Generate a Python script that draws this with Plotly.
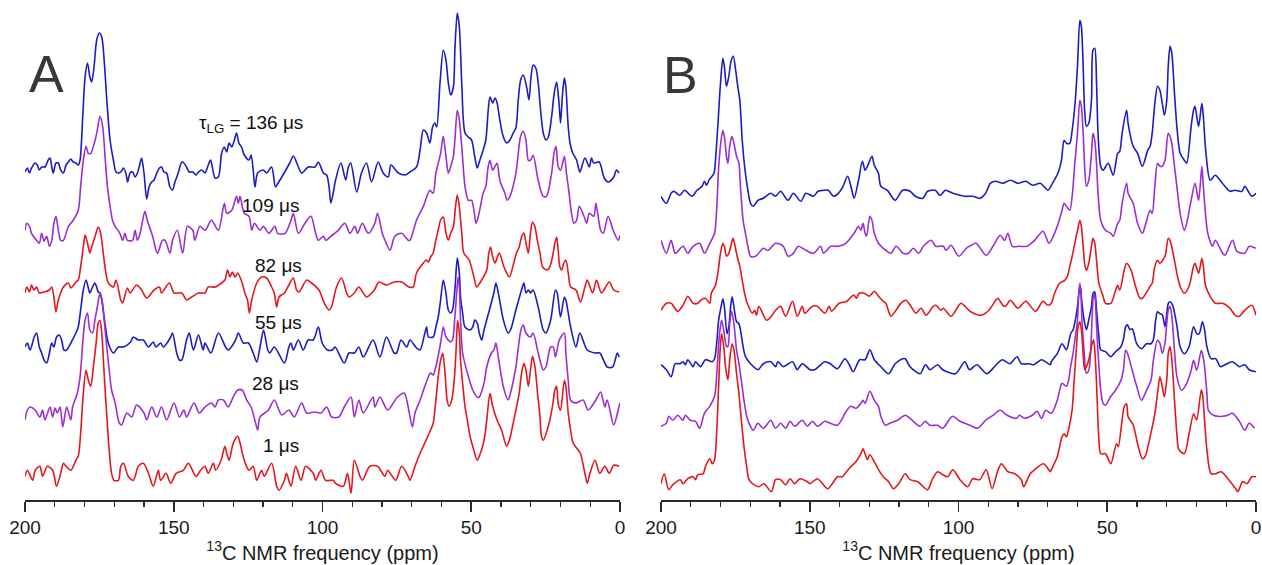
import plotly.graph_objects as go

# ---------------- data: (ppm, intensity) ----------------
# Panel A
A_136 = [(200,-2),(199.2,2),(198.5,-3),(197.8,2),(196.6,7),(195.9,5),(195.2,0),(194.4,3),(193.3,3),(192.2,10),(191.6,12),(191.0,3),(190.5,-3),(189.6,7),(188.8,7),(188.0,0),(187.1,-3),(186.2,5),(185.4,8),(184.6,11),(183.8,8),(182.9,7),(182.1,5),(181.5,10),(180.6,53),(179.8,93),(179.0,107),(178.2,93),(177.6,88),(176.8,103),(175.9,130),(175.0,137),(174.2,133),(173.4,110),(172.5,70),(171.4,30),(170.3,10),(169.4,-2),(168.6,-3),(167.8,-2),(166.9,2),(166.1,-3),(165.5,-12),(164.7,-3),(163.8,-2),(163.0,-7),(162.2,-3),(161.3,7),(160.8,12),(160.0,-3),(159.1,-29),(158.3,-17),(157.4,-12),(156.6,-10),(155.7,-3),(154.8,2),(154.1,3),(153.3,-2),(152.4,-3),(151.3,-17),(150.4,-20),(149.6,-12),(148.5,-3),(147.3,8),(146.6,7),(145.7,3),(144.8,-2),(143.6,-2),(142.5,-5),(141.7,-2),(140.6,0),(139.5,-3),(138.4,5),(137.6,10),
         (136.1,-8),(135.0,-7),(133.9,17),(133.0,23),(132.2,18),(131.4,27),(130.5,23),(129.6,30),(128.9,37),(128.1,27),(127.2,23),(126.3,15),(124.7,10),(124.0,15),(123.3,0),(122.7,-17),(121.8,-3),(119.9,0),(118.8,-3),(117.1,3),(115.8,-17),(114.9,-13),(112.9,-3),(111.0,7),(109.8,14),(108.1,3),(107.0,-3),(104.8,3),(102.5,3),(101.4,8),(99.7,-3),(98.6,-5),(97.8,-17),(97.2,-33),(96.4,-23),(95.6,-10),(93.8,7),(92.2,-10),(91.3,3),(90.5,7),(88.5,-22),(86.9,-3),(85.2,7),(83.5,-12),(81.3,8),(79.6,-3),(77.9,-7),(77.0,5),(74.5,-3),(72.3,-5),
         (70.6,-2),(68.4,3),(67.2,20),(66.1,40),(65.0,37),(63.9,27),(63.0,43),(62.2,47),(61.6,43),(60.5,87),(59.4,120),(58.5,110),(57.7,87),(56.9,75),(56.0,83),(55.5,120),(54.7,157),(54.0,143),(53.2,87),(52.1,37),(51.0,33),(49.9,30),(48.8,13),(48.0,2),(47.1,10),(46.2,18),(45.1,30),(44.3,60),(43.7,73),(42.8,67),(42.0,72),(41.3,67),(40.4,50),(39.2,33),(38.1,27),(37.0,30),(35.9,37),(35.0,42),(34.2,70),(33.4,90),(32.5,95),(31.4,83),(30.6,70),(29.9,93),(29.2,105),(28.3,102),(27.5,87),(26.7,60),(25.8,37),(24.9,30),(24.1,33),(23.0,53),(22.1,77),(21.3,88),(20.5,67),(20.0,47),(19.3,77),(18.7,92),(18.2,83),(17.4,43),(16.8,27),(15.9,17),(14.6,10),(13.5,-2),(11.8,12),(10.3,3),(9.6,12),(8.8,7),(7.0,8),(5.3,-8),(4.0,-12),(2.1,-7),(1.2,0),(0.3,-3)]

A_109 = [(200,3),(199.4,10),(198.5,7),(197.8,0),(196.1,-7),(195.2,-10),(194.4,0),(193.6,-8),(192.7,-3),(191.8,-13),(191.0,-7),(190.3,10),(189.6,17),(188.8,3),(188.0,-7),(187.1,-7),(185.4,7),(183.8,13),(182.1,23),(181.3,47),(180.4,73),(179.5,87),(178.7,80),(177.9,80),(177.0,87),(175.9,100),(174.8,117),(173.9,107),(173.1,77),(172.3,47),(171.4,27),(170.5,12),(169.7,7),(168.1,0),(167.2,-7),(166.4,0),(165.6,-7),(163.8,-7),(163.0,3),(162.2,-7),(161.3,0),(159.7,22),(158.9,13),(157.1,-3),(155.5,-20),(153.8,-7),(152.9,-7),(151.3,-20),(150.4,-7),(148.8,3),(147.0,-20),(145.4,7),(143.6,3),(142.9,-7),(141.2,7),
         (139.5,3),(137.3,13),(135.0,3),(133.0,30),(132.2,20),(130.5,23),(128.9,37),(128.3,30),(127.7,37),(126.3,20),(124.7,17),(123.8,3),(122.9,10),(121.0,3),(119.9,7),(118.0,0),(116.0,7),(115.1,0),(112.6,0),(110.6,13),(109.8,20),(108.1,0),(105.9,10),(103.9,17),(102.3,0),(101.4,-7),(99.7,-3),(98.9,-7),(97.2,-3),(94.7,3),(92.5,10),(90.8,0),(89.1,7),(88.2,0),(86.6,10),(84.6,0),(82.4,10),(81.5,20),(79.9,0),(79.0,-7),(77.3,-17),(75.7,-3),(73.4,0),(71.2,-7),
         (70.6,-7),(68.4,13),(66.1,27),(63.9,43),(62.8,40),(61.9,60),(60.3,80),(59.4,97),(58.5,77),(57.7,60),(56.9,67),(56.0,77),(55.5,93),(54.7,123),(54.0,113),(53.2,87),(52.1,47),(51.0,33),(49.9,33),(49.1,23),(48.4,10),(47.6,17),(46.0,40),(45.1,47),(44.3,67),(43.7,73),(42.8,63),(42.0,67),(41.3,70),(40.4,53),(38.7,40),(37.9,33),(37.0,37),(35.0,60),(34.2,80),(33.4,97),(32.5,102),(31.6,93),(30.8,73),(30.1,73),(29.2,78),(27.5,53),(25.8,37),(24.7,37),(23.0,60),(22.2,80),(21.5,87),(20.8,67),(20.0,63),(18.7,77),(18.0,60),(17.1,40),(16.3,20),(15.5,10),(14.6,13),(13.7,27),(12.1,17),(11.2,10),(10.3,20),(8.8,17),(8.1,30),(6.5,3),(5.6,0),(4.0,17),(2.3,3),(0.6,-7),(0.0,-2)]

A_82 = [(200,-3),(199.4,3),(198.5,-2),(197.8,5),(197.0,0),(196.1,3),(195.2,-3),(193.6,-2),(191.8,0),(191.0,3),(190.3,-7),(189.6,-22),(188.8,-10),(187.1,3),(185.4,7),(184.6,2),(182.9,8),(182.1,10),(181.3,23),(180.4,43),(179.8,55),(179.0,47),(178.2,37),(177.6,43),(176.5,53),(175.4,63),(174.6,57),(173.7,37),(172.8,17),(172.0,7),(170.3,3),(169.4,10),(167.8,-10),(167.2,-13),(165.6,2),(164.7,-3),(162.5,5),(160.8,0),(159.1,-8),(156.6,0),(154.8,3),(154.1,-3),(151.5,7),(149.9,-3),(147.3,-3),(145.7,-10),(144.0,-7),(141.7,-3),
        (139.5,-3),(138.4,3),(136.1,3),(133.9,7),(132.8,10),(131.9,20),(131.1,13),(130.3,18),(129.4,13),(128.5,17),(127.0,7),(126.1,-3),(125.2,-10),(124.6,-23),(123.8,-10),(122.1,7),(120.5,13),(118.8,12),(117.1,3),(116.2,-3),(115.4,-17),(114.6,-7),(112.8,-3),(111.3,5),(109.8,12),(108.7,0),(107.9,-2),(105.3,10),(103.7,7),(101.2,0),(99.4,-13),(97.8,-20),(97.0,-17),(95.3,3),(93.6,12),(91.9,-3),(91.1,-7),(89.3,-3),(87.8,3),(85.2,-7),(82.6,0),(81.0,8),(78.5,5),(75.9,8),(73.4,8),(71.0,3),
        (69.5,3),(68.4,17),(66.1,27),(65.2,30),(64.4,28),(63.7,33),(62.8,37),(61.9,50),(61.1,60),(60.3,70),(59.4,73),(58.5,57),(57.7,50),(56.9,57),(56.0,63),(55.3,83),(54.7,95),(54.0,83),(53.2,57),(52.5,37),(50.7,30),(49.1,13),(48.2,3),(46.5,10),(44.8,20),(44.1,37),(43.5,43),(42.8,33),(42.0,27),(40.6,37),(39.0,23),(37.2,13),(35.7,27),(34.8,37),(33.9,43),(33.1,53),(32.3,57),(31.6,47),(30.8,37),(30.1,57),(29.4,68),(28.6,63),(27.8,50),(26.9,37),(26.0,23),(24.5,20),(23.6,23),(22.7,33),(21.9,47),(21.3,53),(20.8,40),(20.2,23),(19.6,20),(18.9,27),(18.2,30),(17.4,17),(16.6,3),(14.8,0),(13.3,-12),(11.8,3),(11.0,10),(9.2,-3),(7.9,10),(6.2,-3),(3.6,8),(2.1,0),(0.3,-2)]

A_55 = [(200,3),(199.2,7),(198.3,0),(196.9,13),(196.1,17),(195.2,3),(194.4,-3),(193.6,-10),(192.7,-13),(191.8,-3),(191.0,7),(190.3,3),(189.4,13),(188.5,15),(187.7,10),(186.9,0),(186.0,0),(184.6,7),(182.9,17),(182.1,23),(181.3,40),(180.4,60),(179.5,70),(178.8,63),(178.2,57),(177.3,63),(176.5,67),(175.9,63),(175.4,58),(174.8,57),(174.2,50),(173.4,33),(172.8,20),(172.0,7),(170.3,-3),(168.6,3),(166.9,3),(164.5,8),(163.6,13),(161.9,10),(160.2,10),(158.5,3),(156.9,8),(156.0,3),(154.4,7),(153.5,3),(151.0,13),(150.4,17),(149.0,-3),(148.1,-10),(147.3,-10),(145.7,10),(144.8,17),(143.4,0),(141.7,15),(140.1,0),
        (139.5,7),(137.5,-3),(135.0,17),(132.6,3),(131.7,0),(129.2,10),(128.3,17),(126.6,7),(124.9,7),(123.3,-3),(122.1,-12),(121.0,3),(119.8,20),(118.4,0),(117.7,-3),(116.2,3),(112.8,-13),(111.3,3),(110.6,7),(109.8,0),(108.1,10),(106.5,0),(104.8,10),(103.1,10),(101.4,23),(100.1,7),(98.3,0),(96.7,0),(95.8,3),(92.7,-13),(91.1,-3),(89.3,-3),(87.8,3),(86.3,-7),(83.0,10),(80.7,-7),(78.5,13),(75.9,-3),(75.1,-3),(73.6,10),(71.7,3),
        (70.6,10),(68.4,2),(67.2,0),(65.6,17),(65.0,23),(64.4,13),(62.8,13),(61.9,23),(61.1,33),(60.3,50),(59.4,70),(58.5,57),(57.7,40),(56.9,37),(56.3,40),(55.5,60),(54.7,92),(54.0,77),(53.6,53),(52.9,37),(52.1,23),(50.4,20),(49.5,23),(48.8,30),(48.0,27),(47.3,17),(46.5,10),(45.7,20),(43.9,40),(42.4,57),(41.7,67),(40.9,57),(39.2,30),(37.6,17),(36.8,20),(35.0,40),(33.1,60),(32.3,67),(31.6,57),(30.8,60),(30.1,57),(29.2,60),(27.5,43),(25.8,20),(24.9,17),(23.3,30),(21.7,60),(21.1,57),(20.0,33),(18.7,53),(18.2,50),(16.6,23),(14.8,3),(13.5,17),(11.0,0),(8.4,-3),(6.8,-3),(4.3,-17),(2.5,-17),(0.9,-3),(0.3,-7)]

A_28 = [(200,-10),(199.2,0),(198.3,3),(196.6,0),(195.0,-7),(194.1,0),(193.3,-10),(191.6,3),(190.7,-7),(189.9,2),(189.1,-3),(188.2,3),(187.3,-17),(186.0,3),(184.6,-10),(184.0,3),(182.4,17),(181.5,33),(180.6,67),(179.8,90),(179.0,97),(178.2,80),(177.3,77),(176.5,90),(175.7,103),(174.8,117),(174.1,110),(173.4,90),(172.5,63),(171.7,40),(170.9,20),(169.7,7),(168.3,-13),(167.5,-15),(165.8,-3),(164.1,-7),(162.5,5),(160.0,-3),(159.1,-10),(157.4,3),(155.7,-7),(154.1,3),(152.4,-10),(149.9,7),(148.1,-7),(146.6,0),(145.7,-7),(143.2,7),(141.4,-3),
        (139.5,3),(137.3,7),(136.1,3),(135.0,10),(133.3,10),(131.7,3),(130.0,13),(128.5,20),(127.0,20),(125.5,10),(124.0,3),(122.5,-13),(121.8,-20),(121.0,-7),(118.2,0),(116.2,10),(113.7,-5),(111.3,0),(109.5,-7),(107.0,7),(105.3,-3),(102.5,-2),(100.5,-3),(98.6,3),(96.9,-7),(94.5,-7),(92.7,3),(90.4,13),(89.3,-7),(87.8,10),(86.3,-3),(83.0,13),(82.4,3),(80.7,13),(78.1,0),(74.8,13),(72.5,17),(71.2,3),
        (69.8,-17),(68.9,-3),(67.2,10),(65.2,27),(63.7,37),(62.8,35),(61.9,43),(60.3,67),(59.4,83),(58.5,73),(56.9,68),(56.3,70),(55.5,93),(54.9,117),(54.4,133),(54.0,123),(53.6,90),(52.9,57),(51.3,37),(49.5,20),(48.0,13),(47.3,13),(45.7,27),(44.8,43),(43.2,57),(42.4,60),(41.7,67),(40.9,53),(39.2,23),(37.6,10),(36.8,17),(35.0,43),(33.3,80),(32.5,85),(31.6,77),(30.1,73),(29.2,77),(27.5,57),(25.8,40),(24.9,43),(23.3,63),(22.4,63),(21.7,53),(20.4,70),(18.7,77),(18.2,57),(17.4,30),(16.6,10),(14.8,7),(12.4,10),(10.7,0),(8.1,10),(6.5,18),(5.1,3),(4.3,10),(2.1,-15),(0.6,0),(0.0,7)]

A_1 = [(200,-3),(199.2,3),(197.4,-7),(196.6,3),(195.0,7),(194.1,-3),(192.5,7),(190.7,3),(189.4,-13),(188.0,0),(187.1,10),(186.2,7),(184.6,3),(182.9,13),(182.1,17),(181.3,40),(180.4,80),(179.5,103),(178.7,93),(177.9,87),(177.0,107),(176.1,130),(175.4,150),(174.8,153),(174.2,140),(173.4,100),(172.5,57),(171.7,23),(170.9,0),(170.1,-7),(168.6,-7),(167.8,7),(166.9,10),(165.3,-3),(163.6,-7),(161.9,7),(160.2,10),(158.5,0),(156.9,-13),(155.2,3),(154.4,-7),(152.6,0),(151.0,-10),(149.2,0),(146.8,3),(145.1,10),(142.5,-3),(141.0,3),
       (139.5,7),(138.4,0),(136.7,10),(135.9,3),(134.1,13),(132.8,27),(132.2,20),(131.4,13),(130.0,30),(128.5,37),(127.7,30),(126.3,13),(124.7,3),(123.3,7),(122.1,-7),(120.5,3),(119.6,-3),(117.1,10),(115.4,-13),(114.6,-17),(112.8,-7),(112.1,0),(110.6,-13),(109.0,7),(107.2,-7),(105.7,7),(103.1,0),(102.3,-7),(100.5,3),(99.0,-7),(96.4,-7),(95.6,-10),(93.0,-13),(91.6,0),(90.4,-20),(89.3,13),(87.4,-3),(86.6,-7),(84.1,7),(81.5,7),(79.0,-3),(78.1,3),(75.4,-7),(73.4,7),(71.2,-3),
       (70.6,-7),(68.9,7),(67.2,20),(65.2,33),(63.7,43),(62.8,50),(61.9,73),(61.1,97),(60.3,113),(59.6,120),(58.8,100),(58.1,73),(57.4,67),(56.6,73),(55.8,90),(55.1,123),(54.6,153),(54.0,140),(53.6,113),(52.9,90),(52.1,67),(51.3,53),(50.4,37),(49.5,27),(48.0,13),(47.3,17),(45.7,33),(44.8,53),(43.7,80),(42.8,67),(41.3,53),(39.8,43),(38.1,27),(37.2,33),(35.7,53),(33.9,80),(33.1,100),(32.3,110),(31.6,103),(30.8,87),(30.1,103),(29.4,117),(28.6,107),(27.8,83),(26.9,57),(26.4,37),(25.8,33),(24.1,47),(22.7,67),(21.9,83),(21.3,87),(20.8,70),(20.0,63),(18.7,93),(18.2,87),(17.4,60),(16.6,43),(15.7,30),(14.0,23),(13.3,20),(11.8,0),(11.0,-10),(10.1,0),(8.4,13),(6.8,0),(5.1,7),(3.6,0),(2.1,8),(0.3,7)]

# Panel B
B_1 = [(200,-3),(198.2,-10),(196.6,0),(195.7,2),(193.7,-2),(192.1,3),(189.6,-3),(187.9,3),(186.2,7),(185.4,12),(184.7,8),(183.9,13),(182.2,20),(181.7,33),(180.9,67),(180.0,110),(179.2,135),(178.7,127),(178.0,107),(177.2,117),(176.4,133),(175.7,137),(174.9,123),(174.2,107),(173.5,93),(172.7,53),(171.9,27),(171.0,7),(169.9,-10),(169.0,-13),(167.4,-7),(165.6,-5),(163.1,0),(161.5,-3),(159.8,2),(157.3,-7),(155.5,0),(153.0,-8),(151.3,0),(148.8,-3),(147.2,2),(145.4,3),(143.8,3),(142.0,-3),(140.4,0),(138.8,7),
       (137.3,17),(136.0,5),(135.1,-5),(133.6,13),(132.3,32),(131.4,23),(130.6,27),(129.1,37),(128.3,28),(126.9,20),(126.1,7),(123.9,3),(121.3,-7),(118.8,3),(116.3,2),(114.5,-3),(112.0,-5),(110.4,2),(107.8,3),(106.2,-2),(104.4,3),(101.9,0),(99.5,-2),(97.7,-3),(95.2,-3),(92.7,-5),(90.9,0),(89.3,10),(87.5,12),(85.1,10),(82.6,13),(80.0,10),(77.4,12),(75.0,8),(72.5,10),(69.9,3),
       (68.8,8),(66.6,20),(65.4,33),(64.5,53),(63.7,50),(62.6,50),(61.8,63),(60.9,87),(60.0,127),(59.2,173),(58.7,167),(58.1,127),(57.6,83),(57.0,67),(56.2,70),(55.3,93),(54.8,143),(54.2,145),(53.6,110),(53.1,60),(52.2,27),(51.4,23),(49.7,30),(48.0,18),(46.5,40),(45.8,42),(45.0,60),(43.5,83),(43.0,70),(41.3,47),(39.8,40),(38.2,27),(36.4,43),(35.6,47),(34.9,60),(34.0,90),(33.1,107),(32.3,103),(31.5,90),(30.8,78),(30.0,93),(29.5,127),(28.9,147),(28.3,140),(27.4,100),(26.6,67),(25.5,40),(24.1,33),(23.3,30),(21.8,67),(21.0,83),(20.5,87),(19.3,67),(18.2,90),(17.7,77),(16.9,43),(15.4,13),(13.7,18),(11.3,10),(8.7,2),(7.2,3),(4.7,2),(3.8,7),(1.4,-3),(0,0)]

B_2 = [(200,8),(198.2,-5),(196.6,8),(195.2,-5),(192.6,2),(191.0,-5),(189.2,2),(187.0,5),(185.4,-5),(183.6,5),(182.0,15),(181.3,38),(180.6,82),(179.8,108),(179.2,118),(178.7,112),(178.0,92),(177.5,85),(176.9,102),(176.2,112),(175.5,105),(174.6,92),(173.8,85),(173.3,62),(172.4,28),(171.6,15),(170.8,2),(169.9,-8),(168.2,-8),(165.6,0),(164.0,-2),(161.5,5),(158.9,2),(157.3,-8),(155.5,-5),(153.9,2),(151.3,-2),(148.8,-5),(146.3,2),(145.4,-5),(142.9,2),(140.4,2),(137.9,5),
       (135.1,15),(133.6,22),(132.8,18),(132.1,25),(131.4,15),(130.9,12),(129.8,32),(129.1,28),(128.3,15),(126.9,5),(125.3,0),(122.7,-5),(121.0,2),(118.6,-5),(116.8,-5),(115.2,0),(113.4,-5),(111.8,2),(109.2,8),(107.6,2),(105.1,2),(104.2,-2),(102.5,3),(99.9,-8),(97.4,0),(95.7,3),(94.1,5),(90.7,-7),(88.4,2),(86.0,13),(84.5,8),(83.4,15),(81.9,2),(79.5,2),(77.0,2),(74.4,8),(71.6,17),(69.6,5),
       (68.8,8),(66.8,22),(65.2,38),(64.5,45),(63.7,42),(62.6,38),(61.8,52),(60.9,85),(60.0,115),(59.2,148),(58.7,142),(58.1,115),(57.6,82),(57.0,62),(56.2,68),(55.3,95),(54.8,115),(54.2,108),(53.6,85),(53.1,55),(52.2,28),(50.6,18),(48.8,15),(48.0,12),(46.5,25),(45.8,28),(45.0,45),(43.5,65),(43.0,55),(41.3,45),(39.8,25),(38.2,15),(37.3,22),(35.6,38),(34.9,35),(34.0,62),(33.1,85),(32.3,82),(31.5,82),(30.6,88),(29.5,115),(28.9,112),(28.3,105),(27.4,82),(26.6,62),(25.5,35),(24.1,18),(23.3,25),(21.8,48),(20.5,65),(19.3,48),(18.2,82),(17.7,62),(16.9,32),(16.2,15),(14.6,2),(13.7,8),(11.2,-5),(10.4,-7),(7.9,8),(6.4,-3),(3.8,-5),(2.3,2),(0,0)]

B_3 = [(200,-2),(198.2,5),(196.6,5),(194.4,-3),(192.6,3),(191.0,12),(189.2,5),(187.6,5),(186.7,8),(185.1,10),(183.6,5),(183.1,15),(181.7,23),(180.9,35),(180.0,55),(179.2,65),(178.7,62),(178.0,52),(177.2,55),(175.8,70),(175.3,65),(174.4,52),(173.5,42),(172.7,28),(171.9,15),(171.0,5),(169.3,-5),(168.5,-2),(167.9,-7),(167.1,2),(164.5,-12),(162.9,-8),(161.5,-2),(159.8,2),(158.1,-8),(155.8,7),(154.2,-8),(152.5,2),(151.7,-5),(149.1,2),(147.4,2),(144.9,-5),(143.5,2),(142.7,-3),(140.1,5),(137.5,7),
       (135.9,12),(135.1,13),(134.3,10),(133.4,15),(131.7,15),(130.0,12),(128.3,17),(126.9,12),(125.3,7),(124.4,5),(123.5,-3),(122.7,-8),(121.0,-2),(119.4,5),(117.7,8),(116.0,2),(114.3,-5),(112.6,0),(110.9,-7),(108.5,2),(107.6,3),(105.9,-2),(105.1,0),(102.5,-8),(99.9,3),(99.1,5),(96.5,-2),(95.0,-5),(92.4,-7),(89.8,-2),(87.5,8),(86.8,10),(85.1,3),(84.2,2),(82.6,8),(80.0,0),(77.4,7),(74.1,-3),(71.6,7),(69.9,3),
       (68.8,5),(67.7,15),(66.0,25),(64.3,28),(63.4,32),(62.6,42),(61.8,52),(60.9,65),(60.0,78),(59.2,88),(58.7,82),(58.1,62),(57.6,45),(57.0,38),(56.2,45),(55.3,62),(54.8,70),(54.2,65),(53.6,48),(52.8,25),(51.4,12),(50.6,5),(48.8,5),(47.2,18),(46.5,23),(45.8,18),(44.3,38),(43.5,45),(42.0,38),(40.5,22),(39.0,10),(38.2,10),(35.6,22),(34.9,25),(34.0,42),(33.1,48),(32.3,45),(30.6,52),(29.5,70),(28.9,68),(27.4,48),(26.6,35),(25.5,22),(24.1,15),(22.5,22),(21.0,42),(20.5,45),(19.3,35),(18.2,50),(17.7,42),(16.9,22),(15.4,12),(13.7,5),(11.2,5),(8.7,0),(7.0,-7),(5.6,-8),(3.8,-2),(1.4,3),(0,-7)]

B_4 = [(200,2),(198.2,-3),(196.6,-10),(195.2,3),(193.5,3),(192.6,5),(191.8,2),(191.0,7),(189.2,0),(188.4,5),(186.7,0),(185.1,7),(182.8,5),(182.0,8),(181.3,23),(180.6,47),(179.8,60),(179.2,68),(178.7,60),(177.8,33),(177.2,40),(176.6,60),(176.1,70),(175.5,60),(174.6,45),(173.8,43),(173.3,37),(172.4,20),(171.6,10),(169.9,3),(167.4,-3),(165.6,3),(163.1,5),(161.5,0),(160.7,5),(158.9,0),(155.8,5),(154.2,-3),(152.5,3),(149.9,-3),(148.3,-3),(144.9,5),(143.1,3),(140.7,-2),(138.2,8),(136.7,2),
       (135.4,-5),(133.2,7),(131.4,7),(129.8,17),(128.3,7),(126.1,0),(123.5,-7),(121.3,3),(118.8,8),(117.9,8),(116.3,0),(112.9,-7),(111.1,2),(109.6,-3),(107.0,2),(105.3,-3),(101.0,-7),(97.9,5),(96.3,-3),(93.8,2),(90.5,-7),(87.9,0),(85.3,7),(82.8,3),(80.3,10),(78.9,3),(76.3,3),(74.7,2),(72.1,7),(69.1,2),
       (68.8,5),(66.8,13),(65.2,23),(63.7,17),(62.3,33),(61.5,37),(60.7,47),(60.0,60),(59.2,80),(58.9,77),(58.5,63),(57.8,47),(57.0,37),(56.2,47),(55.3,60),(54.8,73),(54.2,75),(53.6,57),(52.8,30),(52.2,17),(50.6,15),(48.8,10),(47.2,15),(45.4,20),(44.6,27),(43.8,40),(43.2,42),(42.4,37),(41.6,38),(40.1,23),(38.5,18),(36.8,23),(35.3,23),(34.5,27),(33.7,47),(33.1,55),(32.3,53),(31.5,52),(30.6,40),(29.5,63),(28.9,65),(28.1,62),(26.7,43),(25.5,20),(24.1,13),(22.5,20),(21.0,40),(19.9,33),(19.1,33),(18.0,45),(17.3,37),(16.5,20),(15.1,8),(13.5,8),(12.0,0),(10.4,2),(7.9,5),(5.6,0),(3.8,2),(2.3,-3),(0,-5)]

B_5 = [(200,-3),(198.2,0),(197.4,7),(196.0,3),(194.4,8),(192.6,3),(191.8,8),(190.1,3),(188.4,2),(187.0,-5),(185.4,10),(183.6,17),(182.0,27),(181.3,47),(180.6,80),(180.0,97),(179.6,103),(178.9,93),(178.0,77),(177.5,77),(176.9,100),(176.3,112),(175.5,100),(174.6,73),(173.8,60),(173.0,43),(172.1,23),(171.2,7),(170.4,0),(169.0,-7),(167.4,0),(165.6,-5),(163.1,3),(161.5,-5),(159.8,0),(158.1,-5),(156.6,2),(155.1,-3),(152.5,3),(150.8,-3),(149.1,2),(147.4,-3),(144.9,2),(143.1,0),(140.7,-2),(139.0,5),(138.2,10),
       (136.2,17),(134.5,15),(132.8,20),(132.1,23),(131.4,20),(129.8,32),(128.3,23),(126.9,17),(126.1,7),(124.6,-2),(123.1,0),(120.5,3),(117.9,8),(116.3,5),(113.0,-3),(111.2,2),(109.6,-2),(107.0,-2),(105.3,-5),(102.8,5),(101.9,7),(99.5,2),(96.1,-2),(93.5,-5),(90.9,3),(88.4,8),(86.0,13),(83.7,8),(80.4,5),(79.5,8),(77.8,5),(75.2,8),(73.6,12),(72.1,5),(70.7,13),
       (68.8,10),(66.8,23),(66.0,33),(65.2,40),(63.7,37),(63.0,43),(62.3,57),(61.5,70),(60.7,87),(60.0,103),(59.6,130),(59.2,140),(58.9,133),(58.5,103),(57.8,73),(57.0,50),(56.2,53),(55.3,90),(54.8,123),(54.4,130),(54.0,123),(53.6,97),(52.8,57),(52.2,33),(51.4,20),(50.6,18),(48.8,27),(47.2,33),(45.4,43),(44.6,53),(43.8,73),(43.2,70),(41.6,53),(40.1,37),(38.5,23),(36.8,33),(35.3,43),(34.5,63),(33.1,83),(32.3,80),(31.5,70),(30.6,80),(30.0,100),(29.5,113),(28.9,117),(28.3,107),(27.4,73),(26.6,47),(25.0,33),(23.3,40),(21.8,53),(21.0,63),(19.9,53),(18.4,73),(18.0,70),(17.3,57),(16.5,30),(16.0,13),(14.3,8),(12.8,7),(11.2,7),(9.5,8),(7.9,10),(5.6,2),(3.8,-7),(2.3,0),(0.5,-5)]

B_6 = [(200,-2),(198.9,8),(197.4,-8),(196.0,-3),(193.5,2),(192.6,-2),(191.0,3),(189.2,5),(188.4,2),(187.6,7),(185.8,8),(185.1,15),(183.6,23),(182.8,18),(182.0,22),(181.3,48),(180.6,98),(180.0,138),(179.6,148),(178.9,135),(178.2,112),(177.5,102),(176.9,122),(176.1,138),(175.5,132),(174.6,108),(173.8,88),(173.0,62),(172.1,35),(171.2,15),(170.4,2),(168.8,-3),(167.1,-5),(165.4,-2),(162.9,-10),(161.5,2),(159.8,2),(158.1,-3),(156.6,3),(155.1,-2),(153.3,3),(150.8,0),(149.9,-2),(147.4,3),(144.0,-7),(142.4,-2),(140.7,5),(139.0,5),(138.2,8),
       (136.2,15),(134.5,20),(132.8,28),(132.1,33),(130.6,22),(129.8,27),(128.3,20),(126.9,12),(125.3,5),(123.5,0),(121.9,-7),(120.1,-2),(117.9,8),(116.3,2),(113.7,0),(110.4,-8),(108.7,3),(107.0,10),(105.3,7),(103.6,5),(101.9,12),(99.5,2),(96.9,-5),(95.2,3),(92.9,2),(90.7,12),(88.7,-7),(87.1,8),(85.6,18),(83.4,10),(81.1,8),(78.9,2),(78.1,-5),(75.9,8),(74.4,12),(71.4,18),(69.1,10),
       (68.8,12),(66.8,25),(65.2,45),(64.5,48),(63.7,45),(63.0,52),(61.8,72),(61.2,98),(60.4,132),(59.8,155),(59.2,160),(58.7,152),(58.1,128),(57.6,112),(57.0,115),(56.2,122),(55.1,138),(54.6,142),(54.2,132),(53.6,98),(52.8,42),(52.2,28),(50.6,28),(48.8,18),(46.9,38),(46.3,35),(45.0,62),(44.3,75),(43.5,78),(43.0,65),(41.3,57),(39.8,38),(38.2,23),(37.3,25),(35.6,45),(34.0,68),(33.1,88),(32.3,105),(31.5,95),(30.8,85),(30.0,102),(29.5,128),(28.9,135),(28.3,122),(27.4,82),(26.6,48),(25.9,32),(24.1,28),(22.5,48),(21.0,68),(20.5,65),(19.9,62),(18.4,92),(18.0,88),(17.3,62),(16.5,32),(15.1,8),(13.5,8),(11.7,10),(9.2,2),(6.8,-7),(6.1,-10),(4.5,0),(3.0,-2),(1.4,5),(0,5)]

A_LABELS = ["τ<sub>LG</sub> = 136 μs", "109 μs", "82 μs", "55 μs", "28 μs", "1 μs"]
TICK_VALUES = [200, 150, 100, 50, 0]
AXIS_TITLE = "<sup>13</sup>C NMR frequency (ppm)"

# ---------------- styling / layout ----------------
BLUE, PURPLE, RED = "#1c1cc4", "#9a2fd4", "#e4171d"
A_SERIES = [A_136, A_109, A_82, A_55, A_28, A_1]
B_SERIES = [B_1, B_2, B_3, B_4, B_5, B_6]
COLORS = [BLUE, PURPLE, RED, BLUE, PURPLE, RED]
A_OFFSETS = [330, 266.7, 210, 150, 90, 26.7]
B_OFFSETS = [306.7, 251.7, 191.7, 133.3, 76.7, 18.3]
LABEL_POS = [(105.9, 376), (107.2, 295), (106.2, 235), (106.2, 178), (107.2, 117), (107.2, 55)]

W, H = 1262, 565
FONT = "Liberation Sans, Arial, sans-serif"

fig = go.Figure()
for series, color, off in zip(A_SERIES, COLORS, A_OFFSETS):
    ppm, inten = zip(*series)
    fig.add_trace(go.Scatter(x=list(ppm), y=[off + v for v in inten], mode="lines",
                             line=dict(color=color, width=1.6, shape="spline", smoothing=0.8),
                             xaxis="x", yaxis="y", hoverinfo="skip", showlegend=False))
for series, color, off in zip(B_SERIES, COLORS, B_OFFSETS):
    ppm, inten = zip(*series)
    fig.add_trace(go.Scatter(x=list(ppm), y=[off + v for v in inten], mode="lines",
                             line=dict(color=color, width=1.6, shape="spline", smoothing=0.8),
                             xaxis="x2", yaxis="y2", hoverinfo="skip", showlegend=False))

xaxis_style = dict(range=[200, 0], showline=True, linecolor="#2a2a2a", linewidth=1.6,
                   ticks="outside", ticklen=10, tickwidth=1.6, tickcolor="#2a2a2a",
                   tickvals=TICK_VALUES, ticktext=[str(v) for v in TICK_VALUES],
                   tickfont=dict(family=FONT, size=19, color="#1a1a1a"),
                   minor=dict(dtick=10, tick0=0, ticks="outside", ticklen=5, tickwidth=1.4,
                              tickcolor="#2a2a2a", showgrid=False),
                   showgrid=False, zeroline=False, fixedrange=True, automargin=False,
                   title=dict(text=AXIS_TITLE, font=dict(family=FONT, size=20, color="#1a1a1a"), standoff=0))
yaxis_style = dict(range=[0, 500], visible=False, showgrid=False, zeroline=False,
                   fixedrange=True, automargin=False)

fig.update_layout(
    template="none",
    width=W, height=H,
    margin=dict(l=0, r=0, t=0, b=65, pad=0, autoexpand=False),
    paper_bgcolor="white", plot_bgcolor="white",
    xaxis=dict(domain=[25 / W, 620 / W], anchor="y", **xaxis_style),
    xaxis2=dict(domain=[661 / W, 1256 / W], anchor="y2", **xaxis_style),
    yaxis=dict(domain=[0, 1], anchor="x", **yaxis_style),
    yaxis2=dict(domain=[0, 1], anchor="x2", **yaxis_style),
)

annotations = []
for text, (xp, yp) in zip(A_LABELS, LABEL_POS):
    annotations.append(dict(text=text, x=xp, y=yp, xref="x", yref="y", xanchor="right", yanchor="middle",
                            showarrow=False, font=dict(family=FONT, size=19, color="#111")))
annotations.append(dict(text="A", x=46 / W, y=(500 - 74) / 500, xref="paper", yref="paper",
                        xanchor="center", yanchor="middle", showarrow=False,
                        font=dict(family=FONT, size=52, color="#383838")))
annotations.append(dict(text="B", x=680 / W, y=(500 - 75) / 500, xref="paper", yref="paper",
                        xanchor="center", yanchor="middle", showarrow=False,
                        font=dict(family=FONT, size=52, color="#383838")))
fig.update_layout(annotations=annotations)

fig.write_html("out.html", config={"displayModeBar": False, "staticPlot": True},
               post_script="document.body.style.margin='0px';")
